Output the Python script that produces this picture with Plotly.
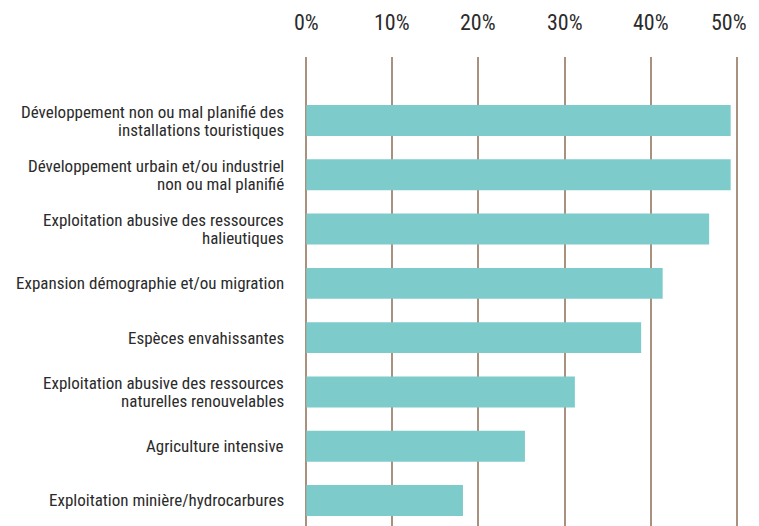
import plotly.graph_objects as go

categories = [
    "Développement non ou mal planifié des<br>installations touristiques",
    "Développement urbain et/ou industriel<br>non ou mal planifié",
    "Exploitation abusive des ressources<br>halieutiques",
    "Expansion démographie et/ou migration",
    "Espèces envahissantes",
    "Exploitation abusive des ressources<br>naturelles renouvelables",
    "Agriculture intensive",
    "Exploitation minière/hydrocarbures",
]
values = [49.3, 49.3, 46.8, 41.4, 38.9, 31.2, 25.4, 18.2]
tick_vals = [0, 10, 20, 30, 40, 50]
tick_text = ["0%", "10%", "20%", "30%", "40%", "50%"]

FONT = "Liberation Sans Narrow, Arial Narrow, Roboto Condensed, Roboto, sans-serif"
BAR = "#7ecbcb"
GRID = "#a8927f"
TEXT = "#2b2b2b"
LABEL_SIZE = 17
LINE_PITCH = 18
TICK_SIZE = 22

fig = go.Figure(
    go.Bar(
        x=values,
        y=categories,
        orientation="h",
        marker=dict(color=BAR, line=dict(width=0)),
        hoverinfo="x",
    )
)

# category labels as annotations (tighter line spacing than tick labels)
for cat in categories:
    lines = cat.split("<br>")
    n = len(lines)
    for i, line in enumerate(lines):
        fig.add_annotation(
            x=0,
            xref="paper",
            y=cat,
            yref="y",
            text=line,
            showarrow=False,
            xanchor="right",
            yanchor="middle",
            xshift=-16,
            yshift=((n - 1) / 2 - i) * LINE_PITCH,
            font=dict(size=LABEL_SIZE, family=FONT, color=TEXT),
        )

# x tick labels as annotations so the last one stays inside the page
for k, (v, t) in enumerate(zip(tick_vals, tick_text)):
    last = k == len(tick_vals) - 1
    fig.add_annotation(
        x=v,
        xref="x",
        y=1,
        yref="paper",
        text=t,
        showarrow=False,
        xanchor="right" if last else "center",
        xshift=12 if last else 0,
        yanchor="middle",
        yshift=35,
        font=dict(size=TICK_SIZE, family=FONT, color=TEXT),
    )

fig.update_layout(
    width=751,
    height=518,
    margin=dict(l=294, r=18, t=49, b=0),
    paper_bgcolor="white",
    plot_bgcolor="white",
    bargap=0.43,
    showlegend=False,
    font=dict(family=FONT, color=TEXT),
)

fig.update_xaxes(
    range=[-0.5, 50.5],
    side="top",
    tickvals=tick_vals,
    showticklabels=False,
    showgrid=True,
    gridcolor=GRID,
    gridwidth=1.5,
    zeroline=False,
    showline=False,
    ticks="",
    automargin=False,
    fixedrange=True,
)

fig.update_yaxes(
    type="category",
    categoryorder="array",
    categoryarray=categories,
    range=[7.47, -1.17],
    showticklabels=False,
    showgrid=False,
    zeroline=False,
    showline=False,
    ticks="",
    automargin=False,
    fixedrange=True,
)

fig.write_html("out.html")
